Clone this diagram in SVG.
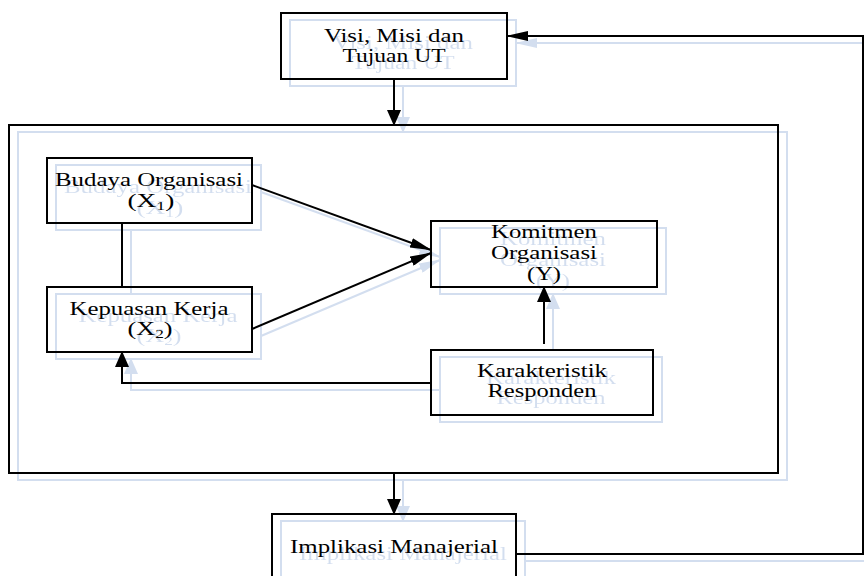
<svg xmlns="http://www.w3.org/2000/svg" xmlns:xlink="http://www.w3.org/1999/xlink" width="864" height="576" viewBox="0 0 864 576">
<defs>
<style>
.box{fill:none;stroke:#000;stroke-width:2}
.ln{fill:none;stroke:#000;stroke-width:2}
.t{font-family:"Liberation Serif","Times New Roman",serif;font-size:19px;fill:#000;text-anchor:middle}
.sub{font-size:12.5px}
</style>
<marker id="av" markerUnits="userSpaceOnUse" markerWidth="16" markerHeight="14" viewBox="0 0 16 14" refX="15" refY="7" orient="auto">
<path d="M0,0 L16,7 L0,14 z" fill="#000"/>
</marker>
<marker id="ah" markerUnits="userSpaceOnUse" markerWidth="22" markerHeight="10" viewBox="0 0 22 10" refX="21" refY="5" orient="auto">
<path d="M0,0 L22,5 L0,10 z" fill="#000"/>
</marker>
<filter id="ghost" x="-5%" y="-5%" width="110%" height="110%">
<feFlood flood-color="#d3deef"/>
<feComposite in2="SourceAlpha" operator="in"/>
</filter>
</defs>
<rect width="864" height="576" fill="#fff"/>
<use href="#main" xlink:href="#main" transform="translate(9,7)" filter="url(#ghost)"/>
<g id="main">
<g id="frame"><rect class="box" x="9" y="125" width="769" height="348"/></g>
<g id="node-visi">
<rect class="box" x="281" y="13" width="226" height="66"/>
<text class="t" x="394" y="42" textLength="140" lengthAdjust="spacingAndGlyphs">Visi, Misi dan</text>
<text class="t" x="394" y="62" textLength="103" lengthAdjust="spacingAndGlyphs">Tujuan UT</text>
</g>
<g id="node-budaya">
<rect class="box" x="47" y="158" width="205" height="65"/>
<text class="t" x="149" y="186" textLength="188" lengthAdjust="spacingAndGlyphs">Budaya Organisasi</text>
<text class="t" x="151" y="207" textLength="47" lengthAdjust="spacingAndGlyphs">(X<tspan class="sub" dy="3">1</tspan><tspan dy="-3">)</tspan></text>
</g>
<g id="node-kepuasan">
<rect class="box" x="47" y="287" width="205" height="65"/>
<text class="t" x="149" y="315" textLength="159" lengthAdjust="spacingAndGlyphs">Kepuasan Kerja</text>
<text class="t" x="150" y="335" textLength="45" lengthAdjust="spacingAndGlyphs">(X<tspan class="sub" dy="3">2</tspan><tspan dy="-3">)</tspan></text>
</g>
<g id="node-komitmen">
<rect class="box" x="431" y="221" width="226" height="66"/>
<text class="t" x="544" y="238" textLength="106" lengthAdjust="spacingAndGlyphs">Komitmen</text>
<text class="t" x="544" y="259" textLength="106" lengthAdjust="spacingAndGlyphs">Organisasi</text>
<text class="t" x="544" y="280" textLength="34" lengthAdjust="spacingAndGlyphs">(Y)</text>
</g>
<g id="node-karakteristik">
<rect class="box" x="431" y="350" width="222" height="65"/>
<text class="t" x="542" y="377" textLength="130" lengthAdjust="spacingAndGlyphs">Karakteristik</text>
<text class="t" x="542" y="397" textLength="109" lengthAdjust="spacingAndGlyphs">Responden</text>
</g>
<g id="node-implikasi">
<rect class="box" x="272" y="514" width="244" height="70"/>
<text class="t" x="394" y="553" textLength="208" lengthAdjust="spacingAndGlyphs">Implikasi Manajerial</text>
</g>
<g id="connectors">
<path class="ln" d="M394,79 V125" marker-end="url(#av)"/>
<path class="ln" d="M122,223 V287"/>
<path class="ln" d="M252,185 L431,250" marker-end="url(#ah)"/>
<path class="ln" d="M252,329 L431,253" marker-end="url(#ah)"/>
<path class="ln" d="M544,344 V287" marker-end="url(#av)"/>
<path class="ln" d="M431,383 H122 V352" marker-end="url(#av)"/>
<path class="ln" d="M394,473 V514" marker-end="url(#av)"/>
<path class="ln" d="M516,554 H863 V36 H507" marker-end="url(#ah)"/>
</g>
</g>
</svg>
